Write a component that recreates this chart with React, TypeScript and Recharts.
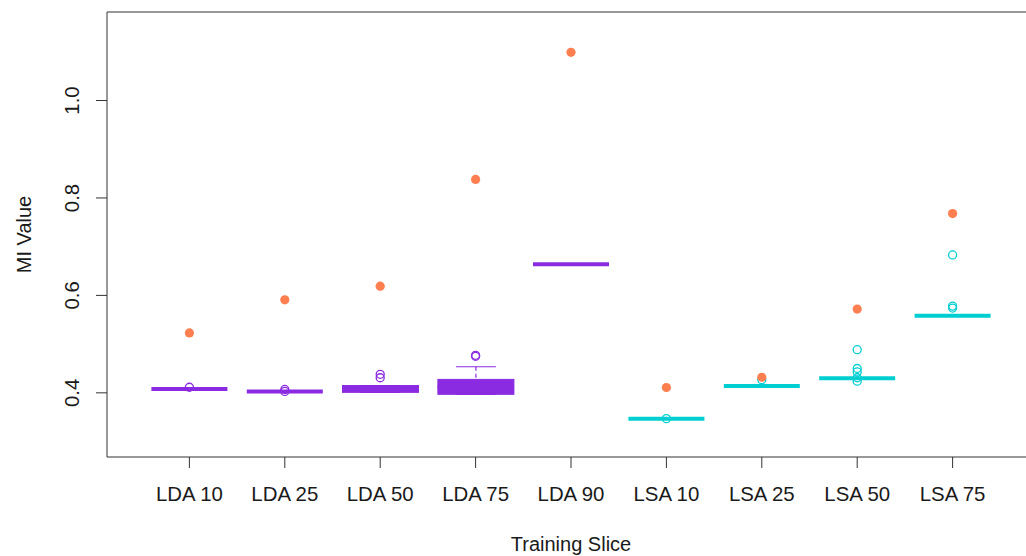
import React from "react";
import { ComposedChart, Bar, Scatter, XAxis, YAxis, ReferenceLine } from "recharts";

const FONT = "'Liberation Sans', Arial, sans-serif";
const INK = "#1a1a1a";
const LDA_COLOR = "#8A2BE2";
const LSA_COLOR = "#00CED1";
const TRUTH_COLOR = "#FF7F50";

// boxplot summaries per training slice
const slices = ["LDA 10", "LDA 25", "LDA 50", "LDA 75", "LDA 90", "LSA 10", "LSA 25", "LSA 50", "LSA 75"];
const lowerQuartile = [0.408, 0.403, 0.401, 0.397, 0.664, 0.347, 0.414, 0.43, 0.558];
const medians = [0.408, 0.403, 0.406, 0.412, 0.664, 0.347, 0.414, 0.43, 0.558];
const upperQuartile = [0.408, 0.403, 0.415, 0.4276, 0.664, 0.347, 0.414, 0.43, 0.558];
const whiskerLow = [0.408, 0.403, 0.401, 0.397, 0.664, 0.347, 0.414, 0.43, 0.558];
const whiskerHigh = [0.408, 0.403, 0.415, 0.4535, 0.664, 0.347, 0.414, 0.43, 0.558];
// filled orange dots
const truthValues = [0.523, 0.591, 0.619, 0.838, 1.099, 0.411, 0.432, 0.572, 0.768];

// open-circle outliers
const outlierSlices = [
  "LDA 10", "LDA 25", "LDA 25", "LDA 50", "LDA 50", "LDA 75", "LDA 75",
  "LSA 10", "LSA 25", "LSA 50", "LSA 50", "LSA 50", "LSA 50", "LSA 50",
  "LSA 75", "LSA 75", "LSA 75",
];
const outlierValues = [
  0.4115, 0.407, 0.403, 0.438, 0.431, 0.477, 0.475,
  0.347, 0.427, 0.4885, 0.45, 0.443, 0.431, 0.424,
  0.683, 0.578, 0.574,
];

const yTicks = [0.4, 0.6, 0.8, 1.0];
const yDomain = [0.2683, 1.1817];

const colorOf = (name: string) => (name.startsWith("LDA") ? LDA_COLOR : LSA_COLOR);

const rows = slices.map((name, i) => ({
  name,
  box: [lowerQuartile[i], upperQuartile[i]],
  whisker: [whiskerLow[i], whiskerHigh[i]],
  median: medians[i],
  truth: truthValues[i],
}));

const outliers = outlierSlices.map((name, i) => ({ name, value: outlierValues[i] }));

const XTick = ({ x, y, payload }: any) => (
  <text x={x} y={y + 33} textAnchor="middle" fontSize={20.4} fontFamily={FONT} fill={INK}>
    {payload.value}
  </text>
);

const YTick = ({ x, y, payload }: any) => (
  <text
    x={x - 17}
    y={y}
    transform={`rotate(-90, ${x - 17}, ${y})`}
    textAnchor="middle"
    fontSize={20.4}
    fontFamily={FONT}
    fill={INK}
  >
    {Number(payload.value).toFixed(1)}
  </text>
);

const BoxShape = (props: any) => {
  const { x, y, width, height, payload } = props;
  if (height == null || isNaN(height)) return null;
  const c = colorOf(payload.name);
  return <rect x={x} y={y} width={width} height={Math.max(height, 0)} fill={c} stroke={c} strokeWidth={1} />;
};

const WhiskerShape = (props: any) => {
  const { x, y, width, height, payload } = props;
  if (height == null || isNaN(height)) return null;
  const c = colorOf(payload.name);
  const cx = x + width / 2;
  const cap = 20;
  return (
    <g stroke={c} strokeWidth={1.2}>
      <line x1={cx} x2={cx} y1={y} y2={y + height} strokeDasharray="4 3" />
      <line x1={cx - cap} x2={cx + cap} y1={y} y2={y} />
      <line x1={cx - cap} x2={cx + cap} y1={y + height} y2={y + height} />
    </g>
  );
};

const MedianShape = ({ cx, cy, payload }: any) => (
  <line x1={cx - 38} x2={cx + 38} y1={cy} y2={cy} stroke={colorOf(payload.name)} strokeWidth={4} />
);

const OutlierShape = ({ cx, cy, payload }: any) => (
  <circle cx={cx} cy={cy} r={4} fill="none" stroke={colorOf(payload.name)} strokeWidth={1.3} />
);

const TruthShape = ({ cx, cy }: any) => <circle cx={cx} cy={cy} r={4.6} fill={TRUTH_COLOR} />;

export default function App() {
  const pad = { left: 34.7, right: 34.7 };
  return (
    <div
      style={{
        position: "fixed",
        left: 0,
        top: 0,
        width: 1026,
        height: 556,
        overflow: "hidden",
        background: "#fff",
        fontFamily: FONT,
      }}
    >
      <ComposedChart
        width={1040}
        height={556}
        data={rows}
        margin={{ top: 12, right: 5, bottom: 0, left: 0 }}
      >
        <XAxis
          dataKey="name"
          type="category"
          allowDuplicatedCategory={false}
          padding={pad}
          height={99}
          tickSize={11}
          tickMargin={0}
          tick={<XTick />}
          interval={0}
          stroke="#333"
          tickLine={{ stroke: "#333" }}
          axisLine={{ stroke: "#333" }}
          label={{
            value: "Training Slice",
            content: ({ viewBox }: any) => (
              <text
                x={viewBox.x + viewBox.width / 2}
                y={551}
                textAnchor="middle"
                fontSize={20}
                fontFamily={FONT}
                fill={INK}
              >
                Training Slice
              </text>
            ),
          }}
        />
        <XAxis xAxisId="whisk" dataKey="name" type="category" padding={pad} hide />
        <YAxis
          type="number"
          domain={yDomain}
          allowDataOverflow
          ticks={yTicks}
          width={107}
          tickSize={11}
          tickMargin={0}
          tick={<YTick />}
          tickLine={{ stroke: "#333" }}
          axisLine={{ stroke: "#333" }}
          label={{
            value: "MI Value",
            content: ({ viewBox }: any) => {
              const lx = viewBox.x + 31;
              const ly = viewBox.y + viewBox.height / 2;
              return (
                <text
                  x={lx}
                  y={ly}
                  transform={`rotate(-90, ${lx}, ${ly})`}
                  textAnchor="middle"
                  fontSize={20}
                  fontFamily={FONT}
                  fill={INK}
                >
                  MI Value
                </text>
              );
            },
          }}
        />
        <ReferenceLine y={yDomain[1]} stroke="#333" strokeWidth={1} ifOverflow="visible" />
        <Bar
          xAxisId="whisk"
          dataKey="whisker"
          barSize={76}
          shape={<WhiskerShape />}
          isAnimationActive={false}
        />
        <Bar dataKey="box" barSize={76} shape={<BoxShape />} isAnimationActive={false} />
        <Scatter dataKey="median" shape={<MedianShape />} isAnimationActive={false} />
        <Scatter data={outliers} dataKey="value" shape={<OutlierShape />} isAnimationActive={false} />
        <Scatter dataKey="truth" shape={<TruthShape />} isAnimationActive={false} />
      </ComposedChart>
    </div>
  );
}
